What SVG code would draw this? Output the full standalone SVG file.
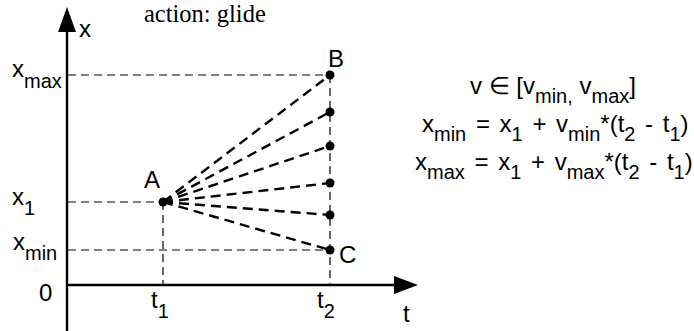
<svg xmlns="http://www.w3.org/2000/svg" width="694" height="331" viewBox="0 0 694 331">
<style>
.t{font-family:"Liberation Sans",Arial,sans-serif;font-size:24px;fill:#000}
.s{font-size:20px}
.f{word-spacing:3px}
.serif{font-family:"Liberation Serif","Times New Roman",serif;font-size:24.5px;fill:#000}
.axis{stroke:#000;stroke-width:2.4;fill:none}
.guide{stroke:#000;stroke-width:1.2;stroke-dasharray:8 5;fill:none}
.fan{stroke:#000;stroke-width:2.4;stroke-dasharray:10 6;fill:none}
.dot{fill:#000}
</style>
<rect width="694" height="331" fill="#fff"/>
<text class="serif" x="144" y="22">action: glide</text>
<g id="axes">
<line class="axis" x1="67" y1="331" x2="67" y2="28"/>
<polygon points="67,7 58,32 76,32" fill="#000"/>
<line class="axis" x1="66" y1="285" x2="398" y2="285"/>
<polygon points="418,285 394,276 394,294" fill="#000"/>
</g>
<g id="connectors">
<line class="guide" x1="68" y1="75" x2="330" y2="75"/>
<line class="guide" x1="68" y1="202" x2="163" y2="202"/>
<line class="guide" x1="68" y1="250" x2="330" y2="250"/>
<line class="guide" x1="163" y1="202" x2="163" y2="285"/>
<line class="guide" x1="330" y1="75" x2="330" y2="285"/>
<line class="fan" x1="163" y1="202" x2="330" y2="75"/>
<line class="fan" x1="163" y1="202" x2="330" y2="112"/>
<line class="fan" x1="163" y1="202" x2="330" y2="146"/>
<line class="fan" x1="163" y1="202" x2="330" y2="183"/>
<line class="fan" x1="163" y1="202" x2="330" y2="215"/>
<line class="fan" x1="163" y1="202" x2="330" y2="250"/>
</g>
<g id="A"><circle class="dot" cx="163" cy="202" r="4.5"/><text class="t" x="144" y="188">A</text></g>
<g id="B"><circle class="dot" cx="330" cy="75" r="4.5"/><text class="t" x="328" y="67">B</text></g>
<g id="P1"><circle class="dot" cx="330" cy="112" r="4.5"/></g>
<g id="P2"><circle class="dot" cx="330" cy="146" r="4.5"/></g>
<g id="P3"><circle class="dot" cx="330" cy="183" r="4.5"/></g>
<g id="P4"><circle class="dot" cx="330" cy="215" r="4.5"/></g>
<g id="C"><circle class="dot" cx="330" cy="250" r="4.5"/><text class="t" x="339" y="263">C</text></g>
<g id="labels">
<text class="t" x="79" y="37">x</text>
<text class="t" x="12" y="77">x<tspan class="s" dy="11">max</tspan></text>
<text class="t" x="12" y="205">x<tspan class="s" dy="10">1</tspan></text>
<text class="t" x="13" y="250">x<tspan class="s" dy="10">min</tspan></text>
<text class="t" x="39" y="301">0</text>
<text class="t" x="151" y="308">t<tspan class="s" dy="10">1</tspan></text>
<text class="t" x="317" y="308">t<tspan class="s" dy="10">2</tspan></text>
<text class="t" x="403" y="322">t</text>
</g>
<g id="formulas">
<text class="t" x="470" y="94">v ∈ [v<tspan class="s" dy="9">min,</tspan> <tspan dy="-9">v</tspan><tspan class="s" dy="9">max</tspan><tspan dy="-9">]</tspan></text>
<text class="t f" x="422" y="132">x<tspan class="s" dy="9">min</tspan><tspan dy="-9"> = x</tspan><tspan class="s" dy="9">1</tspan><tspan dy="-9"> + v</tspan><tspan class="s" dy="9">min</tspan><tspan dy="-9">*(t</tspan><tspan class="s" dy="9">2</tspan><tspan dy="-9"> - t</tspan><tspan class="s" dy="9">1</tspan><tspan dy="-9">)</tspan></text>
<text class="t f" x="415" y="170">x<tspan class="s" dy="9">max</tspan><tspan dy="-9"> = x</tspan><tspan class="s" dy="9">1</tspan><tspan dy="-9"> + v</tspan><tspan class="s" dy="9">max</tspan><tspan dy="-9">*(t</tspan><tspan class="s" dy="9">2</tspan><tspan dy="-9"> - t</tspan><tspan class="s" dy="9">1</tspan><tspan dy="-9">)</tspan></text>
</g>
</svg>
